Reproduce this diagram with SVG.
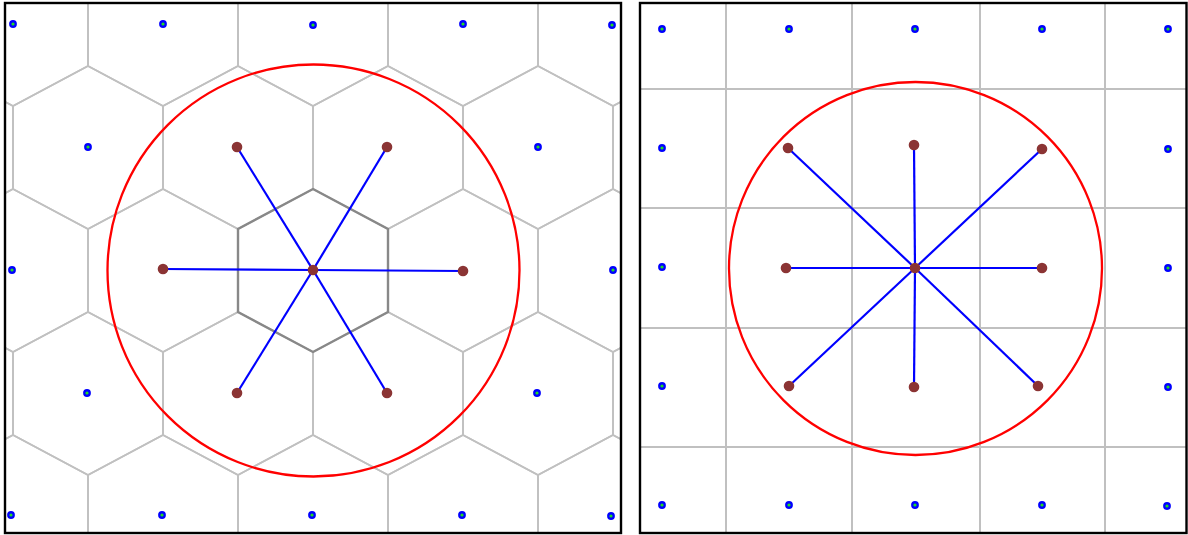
<svg xmlns="http://www.w3.org/2000/svg" xmlns:xlink="http://www.w3.org/1999/xlink" width="1188" height="535" viewBox="0 0 1188 535">
<style>
.cell{fill:none;stroke:#c0c0c0;stroke-width:1.7}
.cellc{fill:none;stroke:#888888;stroke-width:2.4}
.grid{stroke:#c0c0c0;stroke-width:2}
.frame{fill:none;stroke:#000;stroke-width:2.4}
.ring{fill:none;stroke:#ff0000;stroke-width:2.3}
.link{stroke:#0000ff;stroke-width:2.2}
.nb{fill:#8b3434}
.bo{fill:#0000ff}
.bi{fill:#22dd22}
</style>
<defs>
<path id="hx" d="M0,-81 L75,-41 L75,42 L0,82 L-75,42 L-75,-41Z"/>
<g id="bd"><circle r="3.9" class="bo"/><circle r="1.6" class="bi"/></g>
<clipPath id="cl"><rect x="5" y="3" width="616" height="530"/></clipPath>
<clipPath id="cr"><rect x="640" y="3" width="547" height="530"/></clipPath>
</defs>
<rect width="1188" height="535" fill="#fff"/>

<g id="left-panel">
<g id="hex-grid" clip-path="url(#cl)">
<use href="#hx" class="cell" x="13" y="24"/><use href="#hx" class="cell" x="163" y="24"/><use href="#hx" class="cell" x="313" y="24"/><use href="#hx" class="cell" x="463" y="24"/><use href="#hx" class="cell" x="613" y="24"/>
<use href="#hx" class="cell" x="-62" y="147"/><use href="#hx" class="cell" x="88" y="147"/><use href="#hx" class="cell" x="238" y="147"/><use href="#hx" class="cell" x="388" y="147"/><use href="#hx" class="cell" x="538" y="147"/><use href="#hx" class="cell" x="688" y="147"/>
<use href="#hx" class="cell" x="13" y="270"/><use href="#hx" class="cell" x="163" y="270"/><use href="#hx" class="cell" x="463" y="270"/><use href="#hx" class="cell" x="613" y="270"/>
<use href="#hx" class="cell" x="-62" y="393"/><use href="#hx" class="cell" x="88" y="393"/><use href="#hx" class="cell" x="238" y="393"/><use href="#hx" class="cell" x="388" y="393"/><use href="#hx" class="cell" x="538" y="393"/><use href="#hx" class="cell" x="688" y="393"/>
<use href="#hx" class="cell" x="13" y="516"/><use href="#hx" class="cell" x="163" y="516"/><use href="#hx" class="cell" x="313" y="516"/><use href="#hx" class="cell" x="463" y="516"/><use href="#hx" class="cell" x="613" y="516"/>
</g>
<g id="hex-center"><use href="#hx" class="cellc" x="313" y="270"/></g>
<g id="left-range"><circle cx="313.5" cy="270.5" r="206" class="ring"/></g>
<g id="left-links">
<line class="link" x1="313" y1="270" x2="163" y2="269"/>
<line class="link" x1="313" y1="270" x2="463" y2="271"/>
<line class="link" x1="313" y1="270" x2="237" y2="147"/>
<line class="link" x1="313" y1="270" x2="387" y2="147"/>
<line class="link" x1="313" y1="270" x2="237" y2="393"/>
<line class="link" x1="313" y1="270" x2="387" y2="393"/>
</g>
<g id="left-sites">
<use href="#bd" x="13" y="24"/><use href="#bd" x="163" y="24"/><use href="#bd" x="313" y="25"/><use href="#bd" x="463" y="24"/><use href="#bd" x="612" y="25"/>
<use href="#bd" x="88" y="147"/><use href="#bd" x="538" y="147"/>
<use href="#bd" x="12" y="270"/><use href="#bd" x="613" y="270"/>
<use href="#bd" x="87" y="393"/><use href="#bd" x="537" y="393"/>
<use href="#bd" x="11" y="515"/><use href="#bd" x="162" y="515"/><use href="#bd" x="312" y="515"/><use href="#bd" x="462" y="515"/><use href="#bd" x="611" y="516"/>
</g>
<g id="left-neighbours">
<circle class="nb" cx="313" cy="270" r="5.3"/>
<circle class="nb" cx="163" cy="269" r="5.3"/><circle class="nb" cx="463" cy="271" r="5.3"/>
<circle class="nb" cx="237" cy="147" r="5.3"/><circle class="nb" cx="387" cy="147" r="5.3"/>
<circle class="nb" cx="237" cy="393" r="5.3"/><circle class="nb" cx="387" cy="393" r="5.3"/>
</g>
<rect class="frame" x="5" y="3" width="616" height="530"/>
</g>

<g id="right-panel">
<g id="square-grid" clip-path="url(#cr)">
<line class="grid" x1="726" y1="0" x2="726" y2="535"/>
<line class="grid" x1="852" y1="0" x2="852" y2="535"/>
<line class="grid" x1="980" y1="0" x2="980" y2="535"/>
<line class="grid" x1="1105" y1="0" x2="1105" y2="535"/>
<line class="grid" x1="640" y1="89" x2="1188" y2="89"/>
<line class="grid" x1="640" y1="208" x2="1188" y2="208"/>
<line class="grid" x1="640" y1="328" x2="1188" y2="328"/>
<line class="grid" x1="640" y1="447" x2="1188" y2="447"/>
</g>
<g id="right-range"><circle cx="915.5" cy="268.5" r="186.5" class="ring"/></g>
<g id="right-links">
<line class="link" x1="915" y1="268" x2="788" y2="148"/>
<line class="link" x1="915" y1="268" x2="914" y2="145"/>
<line class="link" x1="915" y1="268" x2="1042" y2="149"/>
<line class="link" x1="915" y1="268" x2="786" y2="268"/>
<line class="link" x1="915" y1="268" x2="1042" y2="268"/>
<line class="link" x1="915" y1="268" x2="789" y2="386"/>
<line class="link" x1="915" y1="268" x2="914" y2="387"/>
<line class="link" x1="915" y1="268" x2="1038" y2="386"/>
</g>
<g id="right-sites">
<use href="#bd" x="662" y="29"/><use href="#bd" x="789" y="29"/><use href="#bd" x="915" y="29"/><use href="#bd" x="1042" y="29"/><use href="#bd" x="1168" y="29"/>
<use href="#bd" x="662" y="148"/><use href="#bd" x="1168" y="149"/>
<use href="#bd" x="662" y="267"/><use href="#bd" x="1168" y="268"/>
<use href="#bd" x="662" y="386"/><use href="#bd" x="1168" y="387"/>
<use href="#bd" x="662" y="505"/><use href="#bd" x="789" y="505"/><use href="#bd" x="915" y="505"/><use href="#bd" x="1042" y="505"/><use href="#bd" x="1167" y="506"/>
</g>
<g id="right-neighbours">
<circle class="nb" cx="915" cy="268" r="5.3"/>
<circle class="nb" cx="788" cy="148" r="5.3"/><circle class="nb" cx="914" cy="145" r="5.3"/><circle class="nb" cx="1042" cy="149" r="5.3"/>
<circle class="nb" cx="786" cy="268" r="5.3"/><circle class="nb" cx="1042" cy="268" r="5.3"/>
<circle class="nb" cx="789" cy="386" r="5.3"/><circle class="nb" cx="914" cy="387" r="5.3"/><circle class="nb" cx="1038" cy="386" r="5.3"/>
</g>
<rect class="frame" x="640" y="3" width="546.5" height="530"/>
</g>
</svg>
